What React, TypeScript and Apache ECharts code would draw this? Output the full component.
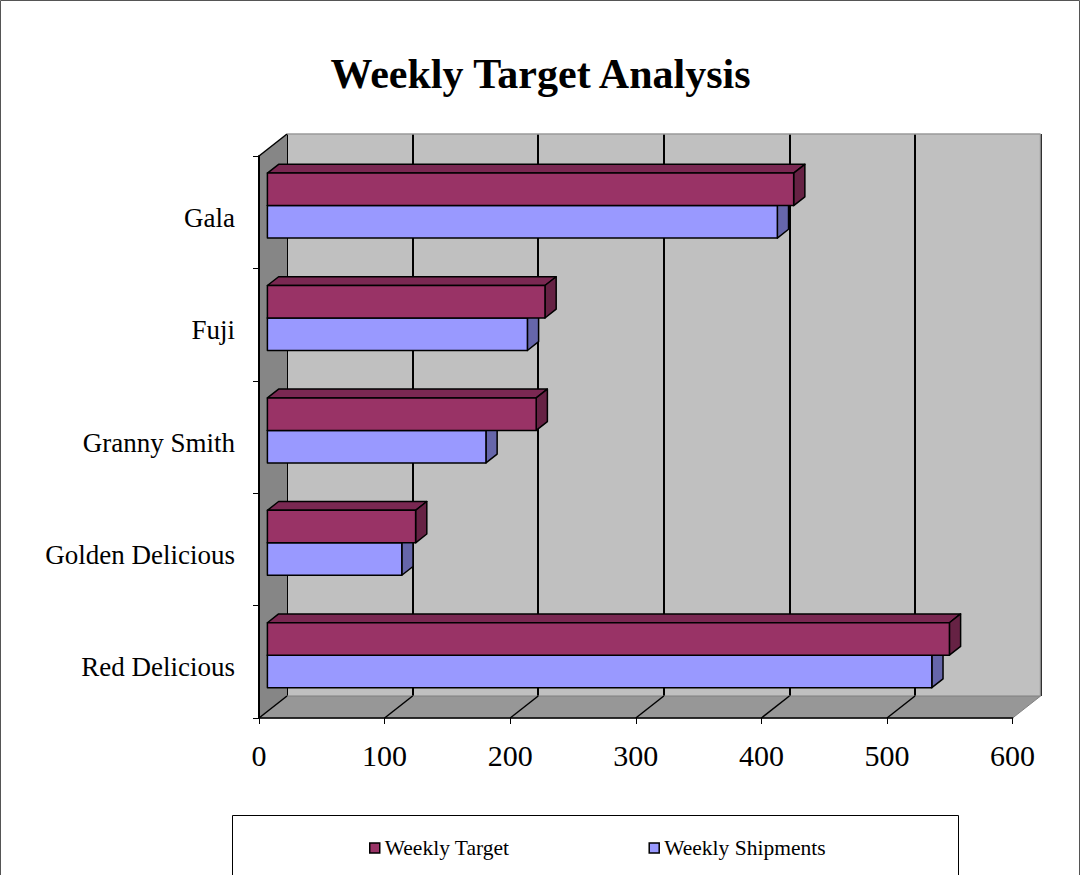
import React, { useEffect, useRef } from "react";
import * as echarts from "echarts";

// ---- data ----
const categories = ["Red Delicious", "Golden Delicious", "Granny Smith", "Fuji", "Gala"];
const weeklyTarget = [543, 118, 214, 221, 419];
const weeklyShipments = [529, 107, 174, 207, 406];
const xTickValues = [0, 100, 200, 300, 400, 500, 600];
const X_MIN = 0;
const X_MAX = 600;
const X_STEP = 100;

// ---- layout ----
const W = 1081;
const H = 875;
const FL = 259; // front plane left (x = 0)
const FR = 1012.6; // front plane right (x = 600)
const FT = 156; // front plane top
const FB = 718; // front plane bottom (axis line)
const DX = 28; // depth offset x (front -> back)
const DY = -22; // depth offset y
const FONT = "'Liberation Serif', 'Times New Roman', serif";

const xPix = (v: number) => FL + ((v - X_MIN) / (X_MAX - X_MIN)) * (FR - FL);

function makeBar(upper: boolean, front: string, topC: string, side: string) {
  return (params: any, api: any) => {
    const v = api.value(0);
    const c = api.value(1);
    const p1 = api.coord([v, c]);
    const p0 = api.coord([0, c]);
    const band = api.size([0, 1])[1];
    const h = band * 0.289;
    const ox = DX * 0.3;
    const oy = DY * 0.3;
    const bdx = DX * 0.4;
    const bdy = DY * 0.4;
    const top = upper ? p1[1] - h + oy : p1[1] + oy;
    const bottom = top + h;
    const xl = p0[0] + ox;
    const xr = p1[0] + ox;
    const stroke = { stroke: "#000", lineWidth: 1.5, lineJoin: "round" };
    return {
      type: "group",
      children: [
        {
          type: "polygon",
          shape: { points: [[xl, top], [xl + bdx, top + bdy], [xr + bdx, top + bdy], [xr, top]] },
          style: { fill: topC, ...stroke },
        },
        {
          type: "polygon",
          shape: { points: [[xr, top], [xr + bdx, top + bdy], [xr + bdx, bottom + bdy], [xr, bottom]] },
          style: { fill: side, ...stroke },
        },
        {
          type: "rect",
          shape: { x: xl, y: top, width: xr - xl, height: h },
          style: { fill: front, ...stroke },
        },
      ],
    };
  };
}

export default function App() {
  const ref = useRef<HTMLDivElement>(null);
  useEffect(() => {
    if (!ref.current) return;
    const chart = echarts.init(ref.current, null, { renderer: "svg" });

    const graphics: any[] = [];
    // outer border
    graphics.push({
      type: "rect",
      z: 0,
      shape: { x: 0.5, y: 0.5, width: W - 2, height: H + 50 },
      style: { fill: null, stroke: "#555", lineWidth: 1 },
    });
    // floor
    graphics.push({
      type: "polygon",
      z: 1,
      shape: { points: [[FL, FB], [FL + DX, FB + DY], [FR + DX, FB + DY], [FR, FB]] },
      style: { fill: "#979797", stroke: "#808080", lineWidth: 1 },
    });
    // floor grid lines
    xTickValues.forEach((v) => {
      if (v === X_MAX) return;
      const x = xPix(v);
      graphics.push({
        type: "line",
        z: 2,
        shape: { x1: x, y1: FB, x2: x + DX, y2: FB + DY },
        style: { stroke: "#000", lineWidth: 1.5 },
      });
    });
    // back wall right edge
    graphics.push({
      type: "line",
      z: 2,
      shape: { x1: FR + DX, y1: FT + DY, x2: FR + DX, y2: FB + DY },
      style: { stroke: "#8a8a8a", lineWidth: 1.5 },
    });
    // left side wall
    graphics.push({
      type: "polygon",
      z: 1,
      shape: { points: [[FL, FT], [FL + DX, FT + DY], [FL + DX, FB + DY], [FL, FB]] },
      style: { fill: "#868686" },
    });
    graphics.push({
      type: "line",
      z: 2,
      shape: { x1: FL + DX, y1: FT + DY, x2: FR + DX, y2: FT + DY },
      style: { stroke: "#9a9a9a", lineWidth: 1.5 },
    });
    graphics.push({
      type: "line",
      z: 2,
      shape: { x1: FL, y1: FT, x2: FL + DX, y2: FT + DY },
      style: { stroke: "#000", lineWidth: 1.5 },
    });
    // legend box
    graphics.push({
      type: "rect",
      z: 1,
      shape: { x: 232.5, y: 815.5, width: 726, height: 100 },
      style: { fill: "#fff", stroke: "#000", lineWidth: 1 },
    });

    chart.setOption({
      animation: false,
      backgroundColor: "#fff",
      title: {
        text: "Weekly Target Analysis",
        left: "center",
        top: 48,
        textStyle: { fontFamily: FONT, fontSize: 42, fontWeight: "bold", color: "#000" },
      },
      legend: {
        data: ["Weekly Target", "Weekly Shipments"],
        left: 364,
        top: 832,
        icon: "rect",
        itemWidth: 10,
        itemHeight: 10,
        itemGap: 139,
        itemStyle: { borderColor: "#000", borderWidth: 1.5 },
        textStyle: { fontFamily: FONT, fontSize: 21.5, color: "#000" },
      },
      graphic: graphics,
      grid: [
        { left: FL, right: W - FR, top: FT, bottom: H - FB, show: false },
        {
          left: FL + DX,
          right: W - FR - DX,
          top: FT + DY,
          bottom: H - FB - DY,
          show: true,
          backgroundColor: "#C0C0C0",
          borderWidth: 0,
        },
      ],
      xAxis: [
        {
          type: "value",
          gridIndex: 0,
          min: X_MIN,
          max: X_MAX,
          interval: X_STEP,
          z: 5,
          axisLine: { show: true, lineStyle: { color: "#000", width: 1.5 } },
          axisTick: { show: true, length: 6, lineStyle: { color: "#000", width: 1 } },
          axisLabel: { fontFamily: FONT, fontSize: 30, color: "#000", margin: 22 },
          splitLine: { show: false },
        },
        {
          type: "value",
          gridIndex: 1,
          min: X_MIN,
          max: X_MAX,
          interval: X_STEP,
          z: 0,
          axisLine: { show: false },
          axisTick: { show: false },
          axisLabel: { show: false },
          splitLine: { show: true, lineStyle: { color: "#000", width: 2 } },
        },
      ],
      yAxis: [
        {
          type: "category",
          gridIndex: 0,
          data: categories,
          z: 5,
          axisLine: { show: true, lineStyle: { color: "#000", width: 2 } },
          axisTick: { show: true, length: 6, lineStyle: { color: "#000", width: 1 } },
          axisLabel: {
            color: "#000",
            margin: 24,
            formatter: "{a|{value}}",
            rich: {
              a: { fontFamily: FONT, fontSize: 27, color: "#000", padding: [11, 0, 0, 0] },
            },
          },
          splitLine: { show: false },
        },
        {
          type: "value",
          gridIndex: 1,
          show: false,
          splitLine: { show: false },
        },
      ],
      series: [
        {
          name: "Weekly Shipments",
          type: "custom",
          xAxisIndex: 0,
          yAxisIndex: 0,
          z: 6,
          clip: false,
          itemStyle: { color: "#9999FF" },
          encode: { x: 0, y: 1 },
          renderItem: makeBar(false, "#9999FF", "#7a7acc", "#6666AA"),
          data: weeklyShipments.map((v, i) => [v, i]),
        },
        {
          name: "Weekly Target",
          type: "custom",
          xAxisIndex: 0,
          yAxisIndex: 0,
          z: 7,
          clip: false,
          itemStyle: { color: "#993366" },
          encode: { x: 0, y: 1 },
          renderItem: makeBar(true, "#993366", "#7A2852", "#662244"),
          data: weeklyTarget.map((v, i) => [v, i]),
        },
      ],
    });
    return () => chart.dispose();
  }, []);
  return (
    <div
      ref={ref}
      style={{ position: "absolute", left: 0, top: 0, width: W, height: H }}
    />
  );
}
